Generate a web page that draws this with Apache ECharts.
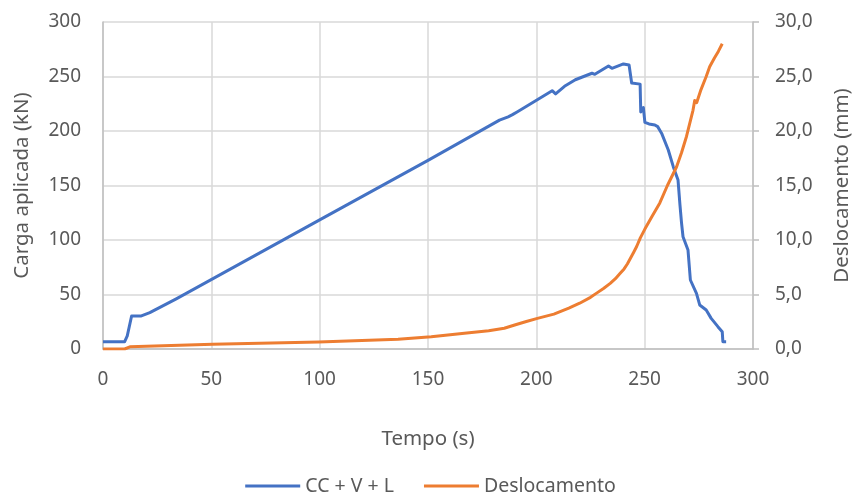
<!DOCTYPE html>
<html>
<head>
<meta charset="utf-8">
<script src="https://cdn.jsdelivr.net/npm/echarts@6/dist/echarts.min.js"></script>
<style>
  html, body { margin: 0; padding: 0; background: #fff; }
  #chart { width: 861px; height: 502px; }
</style>
</head>
<body>
<div id="chart"></div>
<script>
// Load test: applied load (kN) and displacement (mm) over time (s)
const loadTime = [0, 10, 11.2, 13.2, 17.7, 21.6, 33.8, 100, 150, 183, 187, 189, 191.3, 207.3, 208.9, 213, 218, 225.7, 227, 233.3, 234.9, 240.2, 242.8, 243.6, 244, 247.9, 248.2, 249.4, 250.1, 252, 254.7, 256, 257.8, 260.9, 263.2, 265.4, 266.3, 267, 267.7, 270, 271.1, 273.9, 275.4, 278.4, 280.7, 283.8, 285.8, 286.1, 287.6];
const loadValues = [6.7, 6.7, 12, 30.3, 30.3, 33.3, 46, 118.5, 173, 210, 213, 215, 217.7, 237, 234, 241, 247, 253, 252, 259.6, 257.5, 261.5, 260.5, 260, 244, 243, 217.5, 221.5, 208, 206.5, 205.5, 204, 198, 182.6, 167.3, 155, 132, 116, 103, 90.8, 63.3, 51, 40.4, 35.8, 28.1, 20.5, 15.9, 6.7, 6.7];

const dispTime = [0, 10, 12.4, 50.6, 99.5, 136.2, 151.5, 166.8, 178, 185.2, 190, 195, 200.5, 208.1, 215, 220, 225, 228, 231, 234.1, 236.5, 238.5, 240.5, 242, 243.5, 245, 246.3, 248, 250.1, 253.5, 257, 260.5, 264.7, 267, 269.3, 272.3, 273.1, 274, 276, 278.4, 280, 282.2, 284, 285.8];
const dispValues = [0, 0, 0.2, 0.43, 0.64, 0.89, 1.13, 1.44, 1.68, 1.9, 2.2, 2.5, 2.81, 3.2, 3.75, 4.2, 4.74, 5.15, 5.55, 6.02, 6.45, 6.9, 7.35, 7.8, 8.35, 8.9, 9.4, 10.2, 11.0, 12.2, 13.4, 15.0, 16.7, 18.0, 19.5, 21.9, 22.8, 22.6, 23.8, 25, 25.9, 26.7, 27.3, 28.0];

const seriesNames = ['CC + V + L', 'Deslocamento'];
const xTicks = { min: 0, max: 300, interval: 50 };
const loadTicks = { min: 0, max: 300, interval: 50 };
const dispTicks = { min: 0, max: 30, interval: 5 };

const pairs = (xs, ys) => xs.map((x, i) => [x, ys[i]]);

const FONT = 'Noto Sans';
const TXT = '#595959';
const GRID = '#d9d9d9';
const AXIS = '#bfbfbf';

const chart = echarts.init(document.getElementById('chart'), null, { renderer: 'canvas' });
chart.setOption({
  animation: false,
  backgroundColor: '#ffffff',
  textStyle: { fontFamily: FONT },
  grid: { left: 103, right: 104, top: 22, bottom: 153 },
  legend: {
    bottom: 1,
    left: 'center',
    icon: 'rect',
    itemWidth: 55,
    itemHeight: 3,
    itemGap: 30,
    textStyle: { color: TXT, fontSize: 19.5, fontFamily: FONT },
    data: seriesNames
  },
  xAxis: {
    type: 'value',
    min: xTicks.min, max: xTicks.max, interval: xTicks.interval,
    name: 'Tempo (s)',
    nameLocation: 'middle',
    nameGap: 80,
    nameTextStyle: { color: TXT, fontSize: 20.5, fontFamily: FONT },
    axisLine: { show: true, lineStyle: { color: AXIS, width: 1.5 } },
    axisTick: { show: false },
    axisLabel: { color: TXT, fontSize: 19, margin: 21, fontFamily: FONT },
    splitLine: { show: true, lineStyle: { color: GRID, width: 1.5 } }
  },
  yAxis: [
    {
      type: 'value',
      position: 'left',
      min: loadTicks.min, max: loadTicks.max, interval: loadTicks.interval,
      name: 'Carga aplicada (kN)',
      nameLocation: 'middle',
      nameGap: 70,
      nameTextStyle: { color: TXT, fontSize: 20.5, fontFamily: FONT },
      axisLine: { show: true, lineStyle: { color: AXIS, width: 1.5 } },
      axisTick: { show: false },
      axisLabel: { color: TXT, fontSize: 19, margin: 22, fontFamily: FONT },
      splitLine: { show: true, lineStyle: { color: GRID, width: 1.5 } }
    },
    {
      type: 'value',
      position: 'right',
      min: dispTicks.min, max: dispTicks.max, interval: dispTicks.interval,
      name: 'Deslocamento (mm)',
      nameLocation: 'middle',
      nameGap: 79,
      nameTextStyle: { color: TXT, fontSize: 20.5, fontFamily: FONT },
      axisLine: { show: true, lineStyle: { color: AXIS, width: 1.5 } },
      axisTick: { show: true, length: 6, inside: false, lineStyle: { color: AXIS, width: 1.5 } },
      axisLabel: {
        color: TXT, fontSize: 19, margin: 22, fontFamily: FONT,
        formatter: v => v.toFixed(1).replace('.', ',')
      },
      splitLine: { show: false }
    }
  ],
  series: [
    {
      name: seriesNames[0],
      type: 'line',
      yAxisIndex: 0,
      data: pairs(loadTime, loadValues),
      showSymbol: false,
      symbol: 'none',
      lineStyle: { color: '#4472C4', width: 3, join: 'round' },
      itemStyle: { color: '#4472C4' }
    },
    {
      name: seriesNames[1],
      type: 'line',
      yAxisIndex: 1,
      data: pairs(dispTime, dispValues),
      showSymbol: false,
      symbol: 'none',
      lineStyle: { color: '#ED7D31', width: 3, join: 'round' },
      itemStyle: { color: '#ED7D31' }
    }
  ]
});
</script>
</body>
</html>
